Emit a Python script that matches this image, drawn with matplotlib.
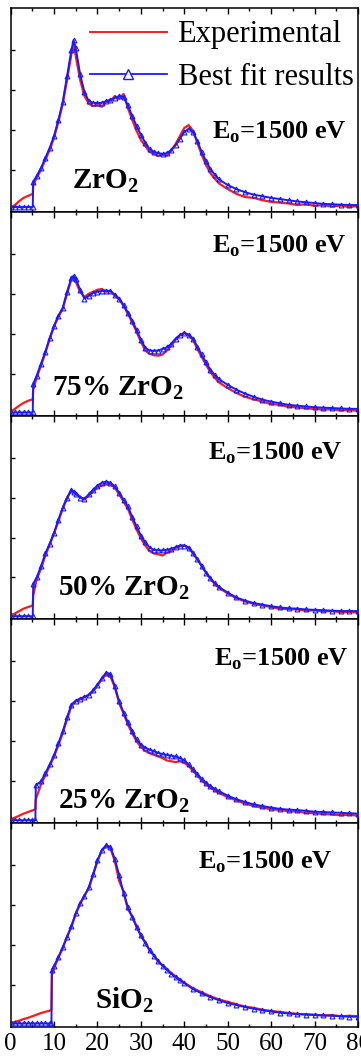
import numpy as np
import matplotlib
matplotlib.use("Agg")
import matplotlib.pyplot as plt
from matplotlib.lines import Line2D
from matplotlib.ticker import MultipleLocator

plt.rcParams['font.family'] = ['Liberation Serif', 'DejaVu Serif']
plt.rcParams['mathtext.fontset'] = 'custom'
plt.rcParams['mathtext.rm'] = 'Liberation Serif:bold'
plt.rcParams['mathtext.bf'] = 'Liberation Serif:bold'

# energy loss (eV) grids, one per panel (the step sits at the band gap)
x_zro2 = [0, 1, 2, 3, 4, 5.1, 5.2, 6, 7, 8, 9, 10, 11, 12, 13, 14, 14.5, 15, 16, 17,
          18, 19, 20, 21, 22, 23, 24, 25, 26, 27, 28, 29, 30, 31, 32, 33, 34, 35, 36,
          37, 38, 39, 40, 41, 42, 43, 44, 45, 46, 47, 48, 50, 52, 54, 56, 58, 60, 62,
          64, 66, 68, 70, 72, 74, 76, 78, 80]
x_75 = x_zro2
x_50 = x_zro2
x_25 = [0, 1, 2, 3, 4, 5, 5.7, 5.8, 7, 8, 9, 10, 11, 12, 13, 14, 15, 16, 17, 18, 19,
        20, 21, 22, 23, 24, 25, 26, 27, 28, 29, 30, 31, 32, 33, 34, 35, 36, 37, 38,
        39, 40, 41, 42, 43, 44, 45, 46, 47, 48, 50, 52, 54, 56, 58, 60, 62, 64, 66,
        68, 70, 72, 74, 76, 78, 80]
x_sio2 = [0, 1, 2, 3, 4, 5, 6, 7, 8, 9, 9.4, 9.5, 10, 11, 12, 13, 14, 15, 16, 17,
          18, 19, 20, 21, 22, 23, 24, 25, 26, 27, 28, 29, 30, 31, 32, 33, 34, 35, 36,
          37, 38, 39, 40, 42, 44, 46, 48, 50, 52, 54, 56, 58, 60, 62, 64, 66, 68, 70,
          72, 74, 76, 78, 80]

# ZrO2
fit_zro2 = [0.07, 0.07, 0.07, 0.07, 0.07, 0.07, 0.70, 0.85, 1.05, 1.30, 1.55, 1.85, 2.25,
            2.70, 3.35, 4.00, 4.25, 4.05, 3.40, 2.95, 2.72, 2.68, 2.67, 2.68, 2.72, 2.76,
            2.80, 2.85, 2.82, 2.62, 2.35, 2.10, 1.88, 1.68, 1.52, 1.45, 1.42, 1.40, 1.42,
            1.50, 1.62, 1.78, 1.95, 2.03, 1.95, 1.72, 1.45, 1.22, 1.02, 0.88, 0.76, 0.62,
            0.52, 0.44, 0.38, 0.34, 0.30, 0.27, 0.24, 0.21, 0.19, 0.17, 0.15, 0.14, 0.13,
            0.12, 0.12]
exp_zro2 = [0.05, 0.12, 0.22, 0.30, 0.35, 0.40, 0.62, 0.80, 1.00, 1.25, 1.50, 1.80, 2.20,
            2.65, 3.25, 3.90, 4.15, 3.85, 3.25, 2.85, 2.66, 2.60, 2.62, 2.58, 2.70, 2.72,
            2.85, 2.78, 2.90, 2.55, 2.25, 1.98, 1.75, 1.60, 1.45, 1.40, 1.35, 1.38, 1.36,
            1.48, 1.65, 1.85, 2.05, 2.12, 1.98, 1.68, 1.38, 1.12, 0.92, 0.78, 0.66, 0.52,
            0.40, 0.32, 0.30, 0.24, 0.20, 0.18, 0.16, 0.12, 0.14, 0.10, 0.12, 0.08, 0.11,
            0.07, 0.10]

# 75% ZrO2
fit_75 = [0.03, 0.03, 0.03, 0.03, 0.03, 0.03, 0.74, 0.95, 1.25, 1.55, 1.90, 2.20, 2.45,
          2.65, 3.05, 3.40, 3.45, 3.38, 3.10, 2.88, 2.95, 3.02, 3.05, 3.07, 3.08, 3.06,
          2.98, 2.88, 2.72, 2.53, 2.32, 2.10, 1.85, 1.65, 1.58, 1.57, 1.58, 1.62, 1.66,
          1.75, 1.88, 1.97, 2.01, 1.98, 1.88, 1.68, 1.48, 1.28, 1.10, 0.97, 0.86, 0.72,
          0.60, 0.50, 0.42, 0.35, 0.30, 0.26, 0.22, 0.20, 0.18, 0.16, 0.15, 0.14, 0.13,
          0.12, 0.12]
exp_75 = [0.05, 0.12, 0.20, 0.27, 0.32, 0.36, 0.60, 0.90, 1.20, 1.52, 1.86, 2.18, 2.42,
          2.62, 3.00, 3.36, 3.42, 3.30, 3.05, 2.92, 3.00, 3.05, 3.10, 3.12, 3.05, 3.08,
          2.95, 2.86, 2.70, 2.50, 2.28, 2.05, 1.80, 1.58, 1.50, 1.46, 1.45, 1.48, 1.58,
          1.70, 1.85, 1.96, 2.03, 1.96, 1.85, 1.62, 1.42, 1.22, 1.04, 0.90, 0.78, 0.64,
          0.52, 0.42, 0.36, 0.30, 0.24, 0.22, 0.17, 0.16, 0.13, 0.12, 0.10, 0.11, 0.08,
          0.09, 0.07]

# 50% ZrO2
fit_50 = [0.03, 0.03, 0.03, 0.03, 0.03, 0.03, 0.84, 1.00, 1.28, 1.60, 1.85, 2.12, 2.45,
          2.75, 3.00, 3.18, 3.14, 3.10, 3.00, 2.97, 3.08, 3.20, 3.30, 3.37, 3.40, 3.37,
          3.28, 3.12, 2.95, 2.78, 2.52, 2.28, 2.05, 1.88, 1.75, 1.69, 1.68, 1.68, 1.69,
          1.72, 1.76, 1.80, 1.80, 1.74, 1.60, 1.45, 1.28, 1.12, 0.98, 0.86, 0.76, 0.62,
          0.50, 0.42, 0.36, 0.32, 0.28, 0.25, 0.23, 0.22, 0.20, 0.19, 0.18, 0.17, 0.16,
          0.16, 0.16]
exp_50 = [0.05, 0.10, 0.16, 0.22, 0.26, 0.30, 0.55, 0.95, 1.22, 1.55, 1.82, 2.10, 2.40,
          2.72, 2.98, 3.20, 3.15, 3.12, 3.02, 2.95, 3.05, 3.15, 3.25, 3.30, 3.35, 3.32,
          3.25, 3.08, 2.90, 2.72, 2.45, 2.20, 1.98, 1.80, 1.66, 1.60, 1.58, 1.55, 1.62,
          1.66, 1.74, 1.78, 1.80, 1.76, 1.62, 1.46, 1.30, 1.12, 0.97, 0.84, 0.74, 0.60,
          0.48, 0.40, 0.34, 0.30, 0.26, 0.22, 0.21, 0.20, 0.17, 0.18, 0.15, 0.16, 0.13,
          0.14, 0.12]

# 25% ZrO2
fit_25 = [0.025, 0.025, 0.025, 0.025, 0.025, 0.025, 0.025, 0.90, 1.00, 1.20, 1.42, 1.65,
          1.95, 2.25, 2.60, 2.92, 3.02, 3.07, 3.10, 3.17, 3.28, 3.42, 3.58, 3.72, 3.68,
          3.38, 3.00, 2.72, 2.48, 2.25, 2.05, 1.92, 1.84, 1.79, 1.75, 1.71, 1.68, 1.66,
          1.64, 1.62, 1.58, 1.52, 1.42, 1.30, 1.18, 1.06, 0.96, 0.88, 0.81, 0.75, 0.64,
          0.55, 0.48, 0.42, 0.38, 0.34, 0.31, 0.29, 0.28, 0.26, 0.24, 0.23, 0.22, 0.21,
          0.20, 0.19]
exp_25 = [0.05, 0.09, 0.14, 0.19, 0.23, 0.27, 0.30, 0.55, 0.92, 1.15, 1.38, 1.62, 1.90,
          2.20, 2.55, 2.88, 3.00, 3.05, 3.12, 3.15, 3.25, 3.40, 3.55, 3.68, 3.62, 3.35,
          2.95, 2.70, 2.42, 2.20, 2.00, 1.86, 1.76, 1.70, 1.66, 1.62, 1.58, 1.52, 1.50,
          1.48, 1.50, 1.46, 1.38, 1.26, 1.14, 1.02, 0.92, 0.84, 0.77, 0.71, 0.60, 0.52,
          0.44, 0.38, 0.34, 0.30, 0.28, 0.25, 0.24, 0.21, 0.20, 0.18, 0.17, 0.15, 0.16,
          0.14]

# SiO2
fit_sio2 = [0.04, 0.04, 0.04, 0.04, 0.04, 0.04, 0.04, 0.04, 0.04, 0.04, 0.04, 1.38, 1.48,
            1.70, 1.95, 2.20, 2.48, 2.80, 3.05, 3.22, 3.45, 3.78, 4.12, 4.38, 4.50, 4.45,
            4.15, 3.75, 3.30, 2.95, 2.70, 2.45, 2.25, 2.05, 1.88, 1.73, 1.60, 1.48, 1.38,
            1.28, 1.20, 1.12, 1.05, 0.90, 0.79, 0.70, 0.62, 0.55, 0.50, 0.45, 0.41, 0.37,
            0.34, 0.31, 0.29, 0.27, 0.26, 0.25, 0.24, 0.23, 0.22, 0.21, 0.21]
exp_sio2 = [0.05, 0.08, 0.11, 0.15, 0.18, 0.22, 0.26, 0.30, 0.33, 0.36, 0.38, 1.25, 1.42,
            1.68, 1.92, 2.22, 2.45, 2.78, 3.02, 3.25, 3.42, 3.75, 4.10, 4.36, 4.48, 4.42,
            4.10, 3.60, 3.35, 2.90, 2.72, 2.48, 2.22, 2.08, 1.86, 1.75, 1.58, 1.50, 1.40,
            1.30, 1.22, 1.14, 1.06, 0.92, 0.82, 0.72, 0.64, 0.58, 0.52, 0.46, 0.43, 0.38,
            0.35, 0.33, 0.30, 0.28, 0.27, 0.26, 0.24, 0.25, 0.22, 0.23, 0.22]

energies = [x_zro2, x_75, x_50, x_25, x_sio2]
fits = [fit_zro2, fit_75, fit_50, fit_25, fit_sio2]
exps = [exp_zro2, exp_75, exp_50, exp_25, exp_sio2]
sample_labels = [r'ZrO$_{2}$', r'75% ZrO$_{2}$', r'50% ZrO$_{2}$', r'25% ZrO$_{2}$',
                 r'SiO$_{2}$']
energy_label = r'E$_{\rm o}$=1500 eV'
xtick_vals = [0, 10, 20, 30, 40, 50, 60, 70, 80]

# text placement per panel (axes fractions)
e0_pos = [(0.968, 0.36), (0.968, 0.80), (0.957, 0.787), (0.972, 0.775), (0.928, 0.78)]
lab_pos = [(0.177, 0.114), (0.119, 0.098), (0.136, 0.119), (0.136, 0.074), (0.243, 0.093)]

fig = plt.figure(figsize=(3.61, 10.59), dpi=100)
fig.subplots_adjust(left=0.0294, right=0.9917, bottom=0.0302, top=0.9924, hspace=0)
axes = fig.subplots(5, 1, sharex=True)

for i, ax in enumerate(axes):
    ax.plot(energies[i], exps[i], color='#ff1a1a', lw=1.6, zorder=2)
    ax.plot(energies[i], fits[i], color='#1a1aff', lw=1.4, marker='^', ms=3.5,
            mfc='none', mew=0.8, zorder=3)
    ax.set_xlim(0, 80)
    ax.set_ylim(-0.05, 5.05)
    ax.set_yticks([1, 2, 3, 4])
    ax.set_yticklabels([])
    ax.xaxis.set_major_locator(MultipleLocator(10))
    ax.xaxis.set_minor_locator(MultipleLocator(5))
    ax.tick_params(axis='x', which='both', direction='in', top=True, bottom=True)
    ax.tick_params(axis='x', which='major', length=4, width=1)
    ax.tick_params(axis='x', which='minor', length=2.5, width=1)
    ax.tick_params(axis='y', direction='in', length=3, width=1, left=True, right=False)
    for s in ax.spines.values():
        s.set_linewidth(1.1)
    ax.text(e0_pos[i][0], e0_pos[i][1], energy_label, transform=ax.transAxes,
            ha='right', va='baseline', fontsize=19, fontweight='bold')
    ax.text(lab_pos[i][0], lab_pos[i][1], sample_labels[i], transform=ax.transAxes,
            ha='left', va='baseline', fontsize=21, fontweight='bold')

axes[-1].set_xticks(xtick_vals)
axes[-1].set_xticklabels([str(v) for v in xtick_vals])
axes[-1].tick_params(axis='x', labelsize=18, pad=4)

# legend in the top panel
handles = [Line2D([], [], color='#ff1a1a', lw=1.4),
           Line2D([], [], color='#1a1aff', lw=1.3, marker='^', ms=7, mfc='white', mew=1)]
axes[0].legend(handles, ['Experimental', 'Best fit results'], loc='upper left',
               bbox_to_anchor=(0.229, 0.94), frameon=False, fontsize=22,
               handlelength=2.5, handletextpad=0.36, labelspacing=0.45,
               borderpad=0, borderaxespad=0, numpoints=1)

plt.savefig('out.png', dpi=100)
